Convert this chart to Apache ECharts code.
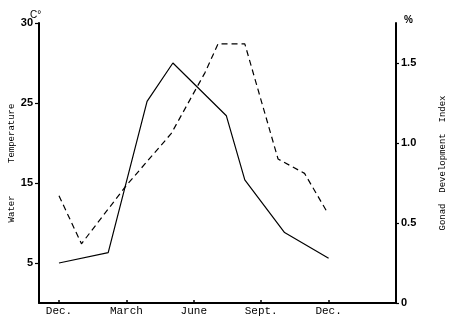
<!DOCTYPE html>
<html><head><meta charset="utf-8">
<script src="https://cdn.jsdelivr.net/npm/echarts@6/dist/echarts.min.js"></script>
<style>html,body{margin:0;padding:0;background:#fff}#c{width:450px;height:321px}</style>
</head><body><div id="c"></div>
<script>
// Months counted from the first December (0) to the following December (12)
const monthTickValues = [0, 3, 6, 9, 12];
const monthTickLabels = ['Dec.', 'March', 'June', 'Sept.', 'Dec.'];
const tempTickValues = [5, 15, 25, 35];
const tempTickLabels = ['5', '15', '25', '30'];
const gdiTickValues = [0, 0.5, 1.0, 1.5];
const gdiTickLabels = ['0', '0.5', '1.0', '1.5'];

// Water temperature (solid line), degrees C
const tempMonths = [0, 2.19, 3.92, 5.07, 7.45, 8.27, 10.04, 12.0];
const tempValues = [5.0, 6.3, 25.2, 30.0, 23.4, 15.4, 8.8, 5.6];

// Gonad development index (dashed line), %
const gdiMonths = [0, 1.0, 3.0, 5.0, 6.5, 7.08, 8.27, 9.75, 10.93, 11.97];
const gdiValues = [0.67, 0.37, 0.735, 1.06, 1.44, 1.62, 1.62, 0.90, 0.81, 0.56];

function pick(values, labels) {
  return function (v) {
    for (let i = 0; i < values.length; i++) {
      if (Math.abs(values[i] - v) < 1e-6) return labels[i];
    }
    return '';
  };
}

const chart = echarts.init(document.getElementById('c'), null, { renderer: 'canvas' });
const mono = 'Liberation Mono';
const boldSans = 'Liberation Sans';

chart.setOption({
  animation: false,
  backgroundColor: '#fff',
  grid: { left: 39, right: 54, top: 23, bottom: 18, containLabel: false, outerBoundsMode: 'none' },
  xAxis: {
    type: 'value', min: -0.89, max: 15,
    axisLine: { show: true, onZero: false, lineStyle: { color: '#000', width: 2 } },
    axisTick: { show: true, inside: true, length: 3, customValues: monthTickValues, lineStyle: { color: '#000', width: 1.5 } },
    axisLabel: { show: true, customValues: monthTickValues, formatter: pick(monthTickValues, monthTickLabels),
      margin: 3, color: '#000', fontFamily: mono, fontSize: 11 },
    splitLine: { show: false }
  },
  yAxis: [
    {
      type: 'value', min: 0, max: 35, position: 'left',
      name: 'Water      Temperature', nameLocation: 'middle', nameRotate: 90, nameGap: 23,
      nameMoveOverlap: false,
      nameTextStyle: { fontFamily: mono, fontSize: 9, color: '#000' },
      axisLine: { show: true, onZero: false, lineStyle: { color: '#000', width: 2 } },
      axisTick: { show: true, length: 4, customValues: tempTickValues, lineStyle: { color: '#000', width: 1.2 } },
      axisLabel: { customValues: tempTickValues, formatter: pick(tempTickValues, tempTickLabels),
        margin: 6, color: '#000', fontFamily: boldSans, fontWeight: 'bold', fontSize: 11 },
      splitLine: { show: false }
    },
    {
      type: 'value', min: 0, max: 1.75, position: 'right',
      name: 'Gonad  Development  Index', nameLocation: 'middle', nameRotate: 90, nameGap: 42,
      nameMoveOverlap: false,
      nameTextStyle: { fontFamily: mono, fontSize: 9, color: '#000' },
      axisLine: { show: true, onZero: false, lineStyle: { color: '#000', width: 2 } },
      axisTick: { show: true, length: 3, customValues: gdiTickValues, lineStyle: { color: '#000', width: 1.2 } },
      axisLabel: { customValues: gdiTickValues, formatter: pick(gdiTickValues, gdiTickLabels),
        margin: 5, color: '#000', fontFamily: boldSans, fontWeight: 'bold', fontSize: 11 },
      splitLine: { show: false }
    }
  ],
  graphic: [
    { type: 'text', left: 30, top: 10, style: { text: 'C°', fill: '#000', font: '10px Liberation Sans' } },
    { type: 'text', left: 404, top: 15, style: { text: '%', fill: '#000', font: 'bold 10px Liberation Sans' } }
  ],
  series: [
    {
      type: 'line', yAxisIndex: 0, symbol: 'none', silent: true,
      data: tempMonths.map((m, i) => [m, tempValues[i]]),
      lineStyle: { color: '#000', width: 1.2, type: 'solid' }
    },
    {
      type: 'line', yAxisIndex: 1, symbol: 'none', silent: true,
      data: gdiMonths.map((m, i) => [m, gdiValues[i]]),
      lineStyle: { color: '#000', width: 1.2, type: [6, 4] }
    }
  ]
});
</script></body></html>
